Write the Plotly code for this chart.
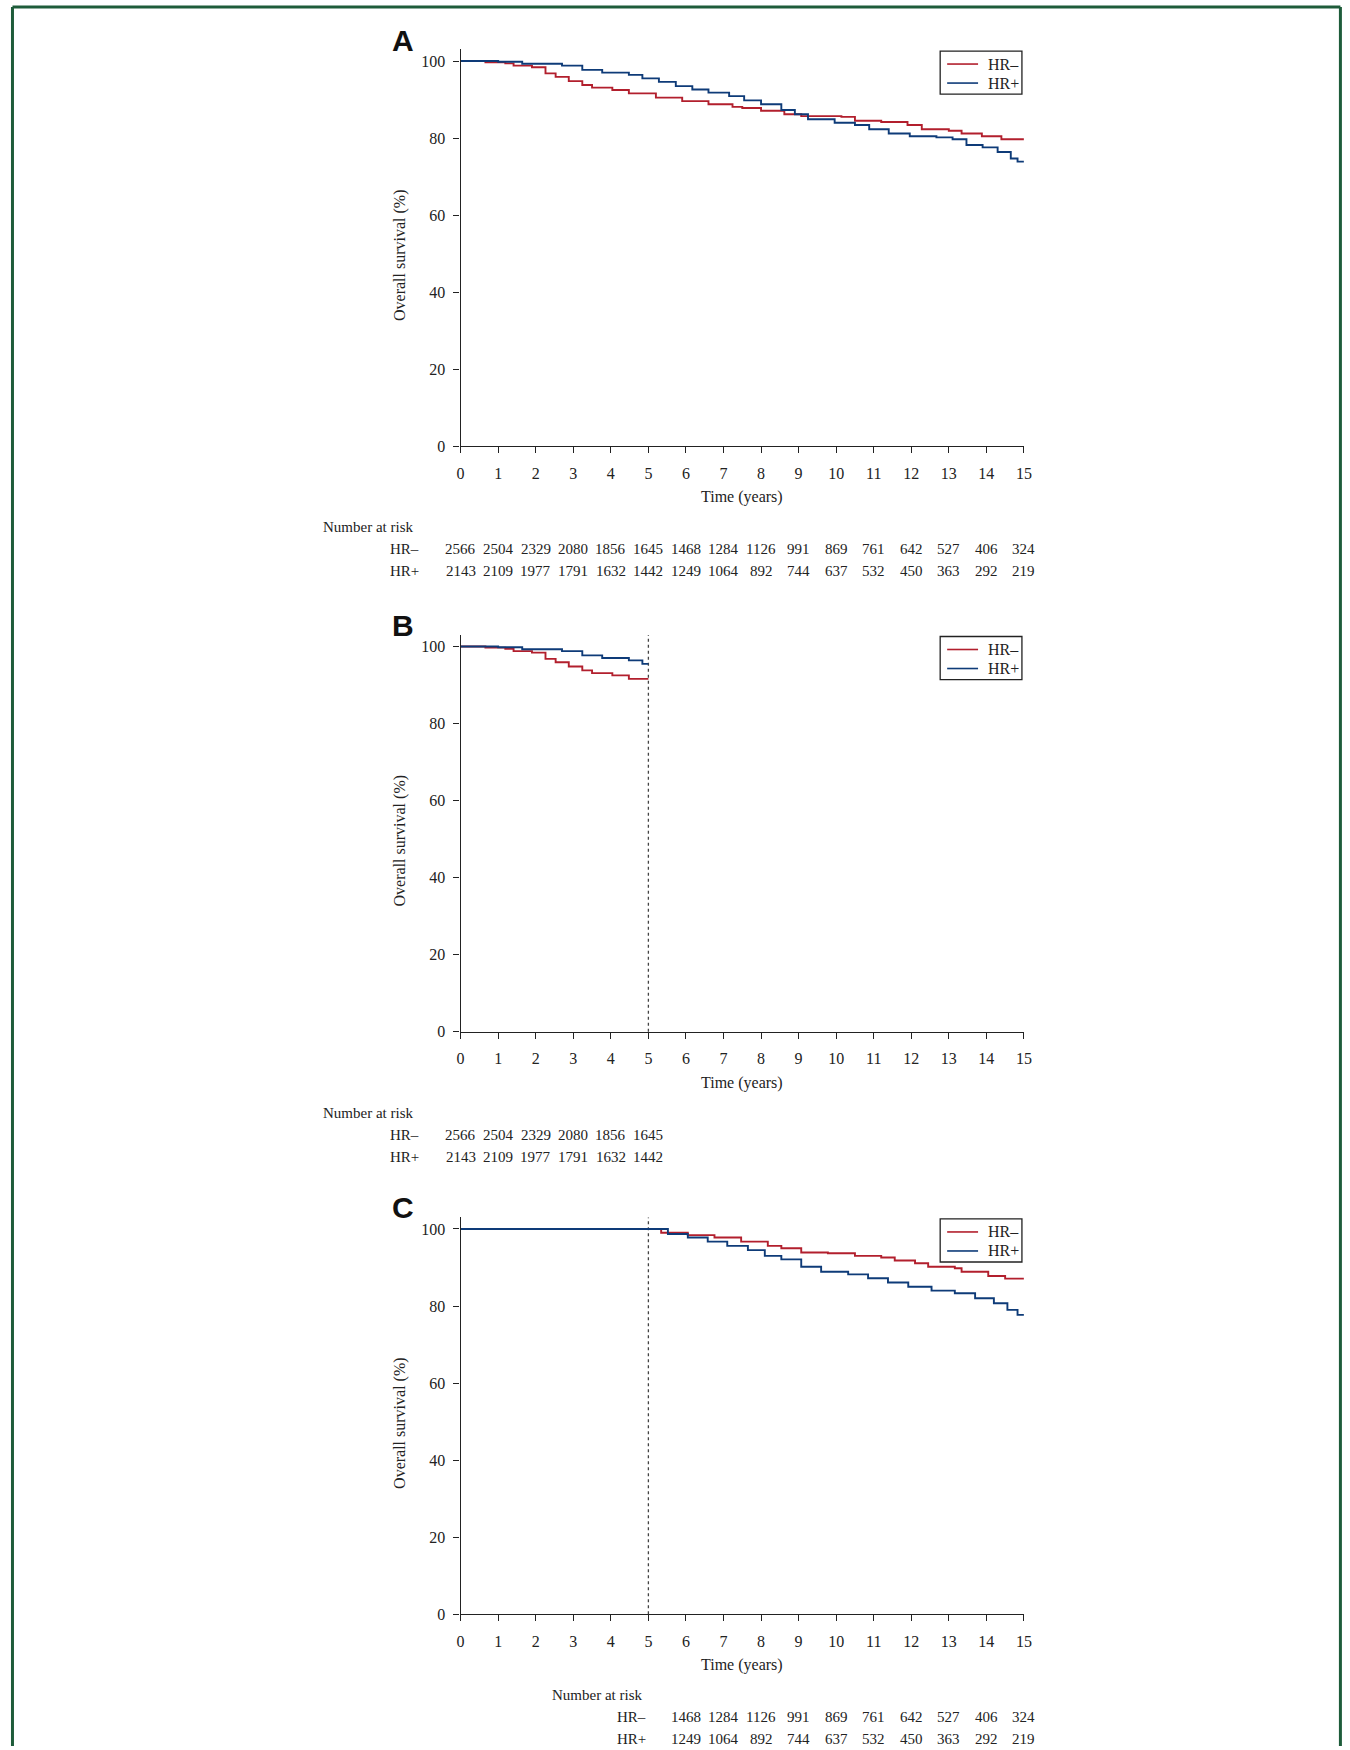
import plotly.graph_objects as go

# ---------------- data ----------------
# Panel A: overall survival (%) from diagnosis, by hormone-receptor status
a_neg_t = [0, 0.66, 1.19, 1.41, 1.9, 2.26, 2.53, 2.88, 3.24, 3.5, 4.04, 4.48, 5.2, 5.9, 6.6,
           7.24, 7.5, 8.0, 8.62, 9.07, 10.14, 10.5, 11.2, 11.9, 12.28, 13.0, 13.34, 13.88, 14.4, 15]
a_neg_s = [100, 99.7, 99.4, 98.8, 98.4, 96.8, 95.9, 94.8, 93.8, 93.1, 92.5, 91.6, 90.5, 89.6, 88.8,
           88.1, 87.8, 87.1, 86.2, 85.7, 85.5, 84.5, 84.2, 83.4, 82.3, 81.9, 81.2, 80.5, 79.7, 79.7]
a_pos_t = [0, 1.0, 1.64, 2.7, 3.24, 3.77, 4.48, 4.84, 5.28, 5.73, 6.17, 6.6, 7.15, 7.55, 8.0,
           8.54, 8.9, 9.25, 9.96, 10.5, 10.88, 11.4, 11.96, 12.67, 13.1, 13.47, 13.9, 14.3, 14.65, 14.83, 15]
a_pos_s = [100, 99.8, 99.3, 98.8, 97.7, 97.0, 96.4, 95.5, 94.6, 93.5, 92.6, 91.8, 90.9, 89.8, 88.8,
           87.3, 86.2, 84.9, 84.0, 83.4, 82.3, 81.2, 80.5, 80.2, 79.7, 78.2, 77.6, 76.4, 74.7, 73.9, 73.9]

# Panel C: survival conditional on being alive at the 5-year landmark
c_neg_t = [0, 5.0, 5.34, 6.05, 6.76, 7.47, 8.18, 8.54, 9.07, 9.78, 10.5, 11.2, 11.56, 12.1, 12.45,
           13.16, 13.34, 14.05, 14.5, 15]
c_neg_s = [100, 100, 99.0, 98.4, 97.8, 96.7, 95.6, 95.0, 93.9, 93.7, 93.0, 92.6, 91.8, 91.1, 90.2,
           89.8, 88.9, 87.8, 87.1, 87.1]
c_pos_t = [0, 5.0, 5.52, 6.05, 6.58, 7.1, 7.65, 8.1, 8.54, 9.07, 9.6, 10.32, 10.85, 11.38, 11.92,
           12.54, 13.16, 13.7, 14.2, 14.56, 14.83, 15]
c_pos_s = [100, 100, 98.7, 97.8, 96.7, 95.6, 94.5, 93.0, 92.1, 90.2, 88.9, 88.2, 87.2, 86.1, 85.0,
           84.0, 83.3, 82.0, 80.7, 79.0, 77.7, 77.7]

landmark = 5
risk_years = list(range(0, 16))
risk_neg = [2566, 2504, 2329, 2080, 1856, 1645, 1468, 1284, 1126, 991, 869, 761, 642, 527, 406, 324]
risk_pos = [2143, 2109, 1977, 1791, 1632, 1442, 1249, 1064, 892, 744, 637, 532, 450, 363, 292, 219]
x_ticks = list(range(0, 16))
y_ticks = [0, 20, 40, 60, 80, 100]
group_labels = ["HR\u2013", "HR+"]
panel_letters = ["A", "B", "C"]

# ---------------- styling ----------------
W, H = 1350, 1755
SHOT = 0.9941                        # the page photo comes out ~0.6% smaller; compensate
RED = "#B21F2D"
BLUE = "#0E3B78"
INK = "#222222"
SERIF = "Liberation Serif, Times New Roman, serif"
SANS = "Liberation Sans, Arial, sans-serif"
X0_PX, X15_PX = 458, 1023
ZERO_PX = [446, 1031, 1613]          # pixel row of y=0 for each panel (target picture)
UNIT = 3.85                          # px per %
YMAX = 103


def px(x):
    return min(x / SHOT, W) / W


def py(y):
    return 1 - min(y / SHOT, H) / H


def clip(ts, ss, tmax):
    out_t, out_s = [], []
    for t, s in zip(ts, ss):
        if t <= tmax:
            out_t.append(t)
            out_s.append(s)
    if out_t[-1] < tmax:
        out_t.append(tmax)
        out_s.append(out_s[-1])
    return out_t, out_s


b_neg_t, b_neg_s = clip(a_neg_t, a_neg_s, landmark)
b_pos_t, b_pos_s = clip(a_pos_t, a_pos_s, landmark)

panels = [
    ((a_neg_t, a_neg_s), (a_pos_t, a_pos_s)),
    ((b_neg_t, b_neg_s), (b_pos_t, b_pos_s)),
    ((c_neg_t, c_neg_s), (c_pos_t, c_pos_s)),
]

fig = go.Figure()
layout = dict(
    width=W, height=H, margin=dict(l=0, r=0, t=0, b=0),
    paper_bgcolor="white", plot_bgcolor="white",
    font=dict(family=SERIF, size=16, color=INK),
    showlegend=False,
)
annotations = []
shapes = []

for i, (neg, pos) in enumerate(panels):
    k = "" if i == 0 else str(i + 1)
    xa, ya = "x" + k, "y" + k
    zero = ZERO_PX[i]
    top = zero - YMAX * UNIT
    for (ts, ss), name, col in [(neg, group_labels[0], RED), (pos, group_labels[1], BLUE)]:
        fig.add_trace(go.Scatter(
            x=ts, y=ss, mode="lines", name=name, line=dict(color=col, width=1.9, shape="hv"),
            xaxis=xa, yaxis=ya, hoverinfo="skip"))
    layout["xaxis" + k] = dict(
        domain=[px(X0_PX), px(X15_PX)], range=[0, 15], anchor=ya,
        tickvals=x_ticks, ticks="outside", ticklen=6, tickwidth=1.3, tickcolor=INK,
        showline=True, linecolor=INK, linewidth=1.3, showgrid=False, zeroline=False,
        tickfont=dict(family=SERIF, size=16, color=INK), ticklabelstandoff=6)
    layout["yaxis" + k] = dict(
        domain=[py(zero), py(top)], range=[0, YMAX], anchor=xa,
        tickvals=y_ticks, ticks="outside", ticklen=6, tickwidth=1.3, tickcolor=INK,
        showline=True, linecolor=INK, linewidth=1.3, showgrid=False, zeroline=False,
        tickfont=dict(family=SERIF, size=16, color=INK), ticklabelstandoff=5)
    # legend box (drawn manually for exact sizing)
    lt = zero - 395
    shapes.append(dict(
        type="rect", xref="paper", yref="paper", x0=px(939), x1=px(1021), y0=py(lt + 43), y1=py(lt),
        line=dict(color=INK, width=1.3), fillcolor="white", layer="above"))
    for r, (lab, col) in enumerate(zip(group_labels, [RED, BLUE])):
        yy = lt + 13 + 19 * r
        shapes.append(dict(
            type="line", xref="paper", yref="paper", x0=px(946), x1=px(977), y0=py(yy), y1=py(yy),
            line=dict(color=col, width=1.6), layer="above"))
        annotations.append(dict(
            text=lab, x=px(985), y=py(yy), xref="paper", yref="paper",
            showarrow=False, font=dict(family=SERIF, size=16, color=INK),
            xanchor="left", yanchor="middle"))
    # panel letter
    annotations.append(dict(
        text="<b>%s</b>" % panel_letters[i], x=px(400), y=py(zero - 406), xref="paper", yref="paper",
        showarrow=False, font=dict(family=SANS, size=30, color="#111111"),
        xanchor="center", yanchor="middle"))
    # y title
    annotations.append(dict(
        text="Overall survival (%)", x=px(397), y=py(zero - 50 * UNIT + 1.5), xref="paper", yref="paper",
        showarrow=False, textangle=-90, font=dict(family=SERIF, size=16, color=INK),
        xanchor="center", yanchor="middle"))
    # x title
    annotations.append(dict(
        text="Time (years)", x=px((X0_PX + X15_PX) / 2), y=py(zero + 51), xref="paper", yref="paper",
        showarrow=False, font=dict(family=SERIF, size=16, color=INK),
        xanchor="center", yanchor="middle"))
    # number at risk table
    if i == 0:
        cols = [(t, a, b) for t, a, b in zip(risk_years, risk_neg, risk_pos)]
    elif i == 1:
        cols = [(t, a, b) for t, a, b in zip(risk_years, risk_neg, risk_pos) if t <= landmark]
    else:
        cols = [(t, a, b) for t, a, b in zip(risk_years, risk_neg, risk_pos) if t > landmark]
    label_right = 418 if i < 2 else 646
    head_left = 318 if i < 2 else 548
    annotations.append(dict(
        text="Number at risk", x=px(head_left), y=py(zero + 81), xref="paper", yref="paper",
        showarrow=False, font=dict(family=SERIF, size=15, color=INK),
        xanchor="left", yanchor="middle"))
    for r, (lab, off) in enumerate(zip(group_labels, [103, 125])):
        annotations.append(dict(
            text=lab, x=px(label_right), y=py(zero + off), xref="paper", yref="paper",
            showarrow=False, font=dict(family=SERIF, size=15, color=INK),
            xanchor="right", yanchor="middle"))
        for t, a, b in cols:
            annotations.append(dict(
                text=str(a if r == 0 else b), x=t, y=py(zero + off), xref=xa, yref="paper",
                showarrow=False, font=dict(family=SERIF, size=15, color=INK),
                xanchor="center", yanchor="middle"))
    # landmark dashed line
    if i > 0:
        shapes.append(dict(
            type="line", xref=xa, yref=ya + " domain", x0=landmark, x1=landmark, y0=0, y1=1,
            line=dict(color="#444444", width=1.3, dash="3px,3px"), layer="below"))

# page frame (left, top, right edges; it runs off the bottom of the page)
FRAME = "#1E5C3A"
fl, ft = px(8.5), py(7)
fr = (W - 1.6) / W
for (x0, y0, x1, y1) in [(fl, ft, fl, 0), (fl, ft, fr, ft), (fr, ft, fr, 0)]:
    shapes.append(dict(
        type="line", xref="paper", yref="paper", x0=x0, y0=y0, x1=x1, y1=y1,
        line=dict(color=FRAME, width=3)))

layout["annotations"] = annotations
layout["shapes"] = shapes
fig.update_layout(**layout)

fig.write_html(
    "out.html",
    config={"displayModeBar": False, "responsive": False},
    post_script="document.body.style.margin='0';document.documentElement.style.overflow='hidden';",
)
